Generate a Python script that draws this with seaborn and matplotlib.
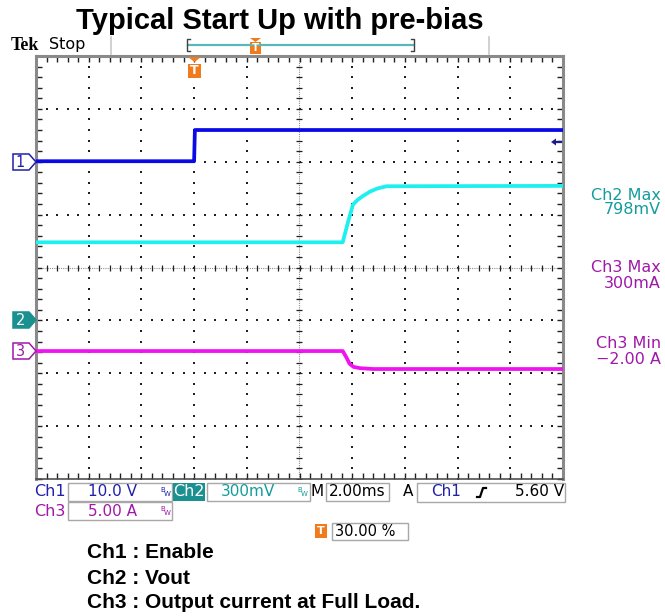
import numpy as np
import pandas as pd
import matplotlib
matplotlib.use("Agg")
import matplotlib.pyplot as plt
from matplotlib.patches import Polygon, Rectangle
import seaborn as sns

# ---- acquisition settings ----
time_per_div = 2.0            # ms / div
trigger_pos = 0.30            # fraction of record before trigger
ch1_scale, ch1_ground = 10.0, 1.99   # V/div, ground marker (div)
ch2_scale, ch2_ground = 0.3, -0.99   # V/div
ch3_scale, ch3_ground = 5.0, -1.58   # A/div

# ---- captured waveforms (time in ms) ----
ch1_t = [-6.0, 0.0, 0.03, 14.0]
ch1_v = [0.2, 0.2, 6.1, 6.1]                 # Enable

ch2_t = [-6.0, 5.64, 5.85, 6.03, 6.20, 6.40, 6.68, 6.95, 7.30, 14.0]
ch2_v = [0.44, 0.44, 0.56, 0.654, 0.68, 0.702, 0.728, 0.745, 0.758, 0.76]   # Vout

ch3_t = [-6.0, 5.64, 5.78, 5.90, 6.05, 6.30, 6.80, 14.0]
ch3_i = [0.0, 0.0, -0.6, -1.2, -1.5, -1.62, -1.7, -1.7]   # output current

ch2_max = "798mV"
ch3_max = "300mA"
ch3_min = "\u22122.00 A"
trig_level = "5.60 V"
trig_pct = "30.00 %"

c1_trace, c2_trace, c3_trace = "#0a0ae6", "#1ef0f0", "#f012f0"
c1_text, c2_text, c3_text = "#2020a8", "#149c9c", "#a018a8"
orange = "#f07a1c"

frames = []
for name, t, v, sc, gnd in [("Ch1", ch1_t, ch1_v, ch1_scale, ch1_ground),
                            ("Ch2", ch2_t, ch2_v, ch2_scale, ch2_ground),
                            ("Ch3", ch3_t, ch3_i, ch3_scale, ch3_ground)]:
    frames.append(pd.DataFrame({"t": t, "div": np.array(v) / sc + gnd, "ch": name}))
df = pd.concat(frames, ignore_index=True)

W, H = 665, 616
fig = plt.figure(figsize=(W / 100, H / 100), dpi=100)
L, R, T, B = 36, 563, 56, 479
ax = fig.add_axes([L / W, 1 - B / H, (R - L) / W, (B - T) / H])

t0 = -trigger_pos * 10 * time_per_div
t1 = t0 + 10 * time_per_div
ax.set_xlim(t0, t1)
ax.set_ylim(-4, 4)

# graticule: dotted division lines
xs_major = np.arange(t0, t1 + 1e-9, time_per_div)
dot_y = np.arange(-4, 4.001, 0.2)
dot_x = np.arange(t0, t1 + 1e-9, time_per_div / 5)
cx = t0 + 5 * time_per_div
for xv in xs_major[1:-1]:
    if abs(xv - cx) < 1e-9:
        continue
    ax.scatter(np.full_like(dot_y, xv), dot_y, s=1.3, marker="s", color="#202020",
               linewidths=0, zorder=1)
for yv in range(-3, 4):
    if yv == 0:
        continue
    ax.scatter(dot_x, np.full_like(dot_x, yv), s=1.3, marker="s", color="#202020",
               linewidths=0, zorder=1)
# centre crosshair with minor ticks
ax.axvline(cx, color="#909090", lw=0.8, ls=(0, (1, 1)), zorder=1)
ax.axhline(0, color="#909090", lw=0.8, ls=(0, (1, 1)), zorder=1)
ax.scatter(np.full_like(dot_y, cx), dot_y, marker="_", s=22, color="#202020",
           linewidths=0.9, zorder=1)
ax.scatter(dot_x, np.zeros_like(dot_x), marker="|", s=22, color="#202020",
           linewidths=0.9, zorder=1)

# edge ticks
ax.set_xticks(dot_x, minor=True)
ax.set_yticks(dot_y, minor=True)
ax.set_xticks([])
ax.set_yticks([])
ax.tick_params(which="minor", direction="in", length=4, width=1, color="#202020",
               top=True, right=True, bottom=True, left=True,
               labelbottom=False, labelleft=False)
for s in ax.spines.values():
    s.set_color("#8a8a8a")
    s.set_linewidth(2.2)
ax.spines["bottom"].set_color("#505050")
ax.spines["bottom"].set_linewidth(1.2)

sns.lineplot(data=df, x="t", y="div", hue="ch", ax=ax, estimator=None, sort=False,
             palette={"Ch1": c1_trace, "Ch2": c2_trace, "Ch3": c3_trace},
             linewidth=2.7, legend=False, zorder=4)
ax.set_xlabel("")
ax.set_ylabel("")

# ---- overlay for the scope screen annotations (pixel coordinates) ----
ov = fig.add_axes([0, 0, 1, 1])
ov.set_xlim(0, W)
ov.set_ylim(H, 0)
ov.axis("off")
ov.patch.set_alpha(0)

SCR = "DejaVu Sans"
FS = 11

def txt(x, y, s, **kw):
    kw.setdefault("va", "center")
    kw.setdefault("ha", "left")
    ov.text(x, y, s, **kw)

def box(x0, y0, x1, y1, fc="none", ec="#a8a8a8", lw=1.0):
    ov.add_patch(Rectangle((x0, y0), x1 - x0, y1 - y0, fc=fc, ec=ec, lw=lw))

def bw(x, y, color):
    txt(x, y - 2, "B", fontsize=5, color=color, family=SCR)
    txt(x + 3.5, y + 2, "W", fontsize=5, color=color, family=SCR)

txt(280, 21, "Typical Start Up with pre-bias", ha="center", fontsize=21,
    fontweight="bold", family="Liberation Sans")
txt(11, 45, "Tek", fontsize=13, fontweight="bold", family="Liberation Serif")
txt(49, 45, "Stop", fontsize=11.5, family=SCR)

# record bar
ov.plot([111, 111], [37, 54], color="#c8c8c8", lw=1.2)
ov.plot([489, 489], [37, 54], color="#c8c8c8", lw=1.2)
ov.plot([188, 413], [45, 45], color="#5ab8b8", lw=1.6)
ov.plot([190, 187, 187, 190], [39, 39, 51, 51], color="#404040", lw=1)
ov.plot([411, 414, 414, 411], [39, 39, 51, 51], color="#404040", lw=1)
ov.add_patch(Polygon([[250, 38], [261, 38], [255.5, 42]], closed=True, fc=orange, ec="none"))
ov.add_patch(Rectangle((250, 42), 11, 12, fc=orange, ec="none"))
txt(255.5, 48, "T", ha="center", fontsize=7.5, color="white", fontweight="bold")

# trigger position marker
ov.add_patch(Polygon([[188, 57], [201, 57], [194.5, 62]], closed=True, fc=orange, ec="none"))
ov.add_patch(Rectangle((188, 64), 13, 14, fc=orange, ec="none"))
txt(194.5, 71, "T", ha="center", fontsize=9, color="white", fontweight="bold")

# channel ground markers
def tag(y, label, ec, fc, tc):
    pts = [[13, y - 8], [29, y - 8], [36, y], [29, y + 8], [13, y + 8]]
    ov.add_patch(Polygon(pts, closed=True, fc=fc, ec=ec, lw=1.1))
    txt(20.5, y + 0.5, label, ha="center", fontsize=10.5, color=tc, family=SCR)

tag(162, "1", c1_text, "white", c1_text)
tag(320, "2", "#1a9090", "#1a9090", "white")
tag(351, "3", c3_text, "white", c3_text)

# trigger level arrow
ov.add_patch(Polygon([[551, 142], [556, 138.5], [556, 145.5]], closed=True,
                     fc="#1a1a90", ec="none"))
ov.plot([555, 561], [142, 142], color="#1a1a90", lw=1.6)

# measurement readouts
for y, s, c in [(195, "Ch2 Max", c2_text), (210, ch2_max, c2_text),
                (268, "Ch3 Max", c3_text), (284, ch3_max, c3_text),
                (343, "Ch3 Min", c3_text), (359, ch3_min, c3_text)]:
    txt(661, y, s, ha="right", fontsize=11.5, color=c, family=SCR)

# status bar
txt(34, 492, "Ch1", fontsize=FS + 0.5, color=c1_text, family=SCR)
box(68, 483, 172, 501)
txt(113, 492, "10.0 V", ha="center", fontsize=FS, color=c1_text, family=SCR)
bw(160, 492, c1_text)
ov.add_patch(Rectangle((173, 483), 32, 18, fc="#1a9090", ec="none"))
txt(189, 492, "Ch2", ha="center", fontsize=FS + 0.5, color="white", family=SCR)
box(207, 483, 310, 501)
txt(248, 492, "300mV", ha="center", fontsize=FS, color=c2_text, family=SCR)
bw(297, 492, c2_text)
txt(311, 492, "M", fontsize=FS, color="black", family=SCR)
box(326, 483, 389, 501)
txt(357.5, 492, "2.00ms", ha="center", fontsize=FS, color="black", family=SCR)
txt(403, 492, "A", fontsize=FS, color="black", family=SCR)
box(417, 483, 565, 502)
txt(431, 492, "Ch1", fontsize=FS, color=c1_text, family=SCR)
ov.plot([477, 480, 483, 486], [497, 497, 488, 488], color="black", lw=1.6)
txt(564, 492, trig_level, ha="right", fontsize=FS, color="black", family=SCR)

txt(34, 511, "Ch3", fontsize=FS + 0.5, color=c3_text, family=SCR)
box(68, 502, 172, 520)
txt(113, 511, "5.00 A", ha="center", fontsize=FS, color=c3_text, family=SCR)
bw(160, 511, c3_text)

ov.add_patch(Rectangle((315, 524), 12, 14, fc=orange, ec="none"))
txt(321, 531, "T", ha="center", fontsize=8, color="white", fontweight="bold")
box(332, 523, 408, 540)
txt(335, 531.5, trig_pct, fontsize=10.5, color="black", family=SCR)

# channel legend
for y, s in [(553, "Ch1 : Enable"), (578, "Ch2 : Vout"),
             (602, "Ch3 : Output current at Full Load.")]:
    txt(87, y, s, fontsize=15, fontweight="bold", family="Liberation Sans")

fig.savefig("out.png", dpi=100)
